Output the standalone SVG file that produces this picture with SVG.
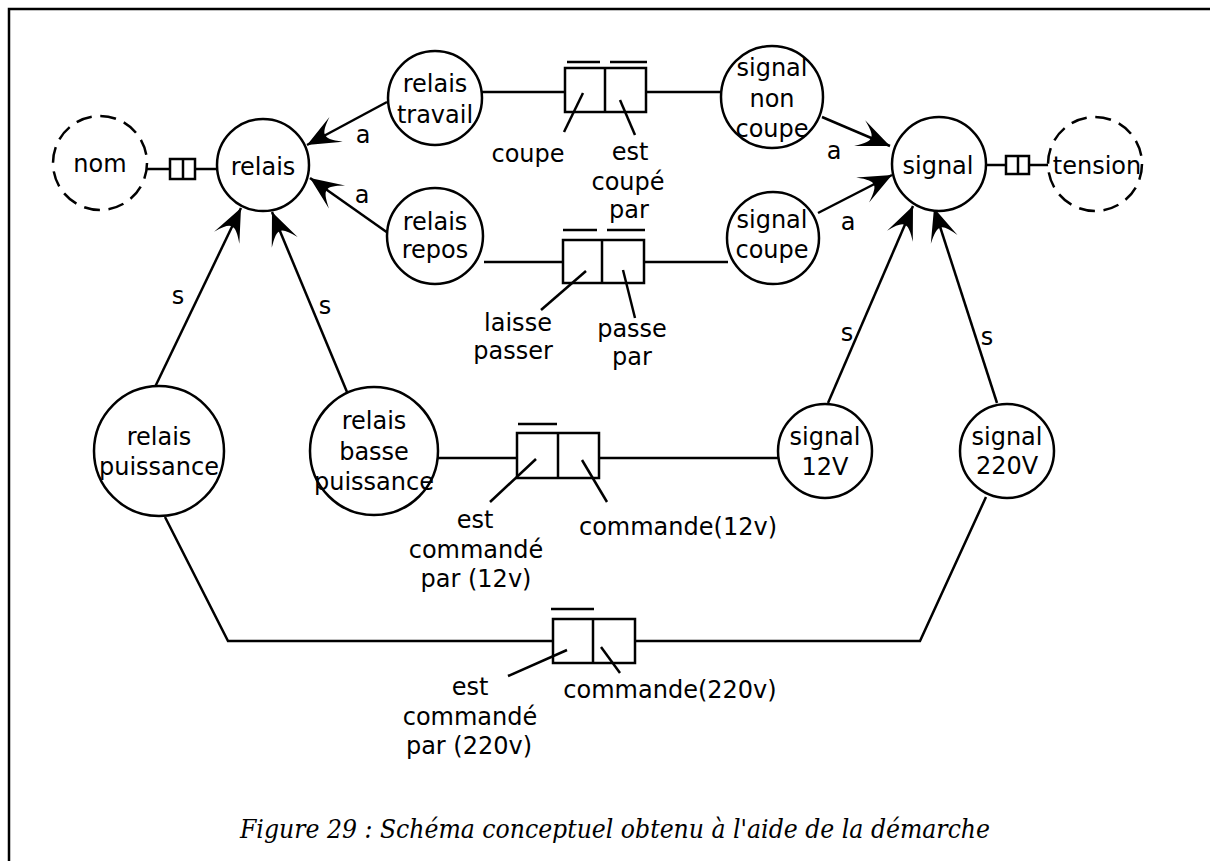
<svg xmlns="http://www.w3.org/2000/svg" width="1210" height="861" viewBox="0 0 1210 861">
<style>
  .n { fill: #fff; stroke: #000; stroke-width: 2.5; }
  .d { fill: #fff; stroke: #000; stroke-width: 2.5; stroke-dasharray: 16 8.6; }
  .l { fill: none; stroke: #000; stroke-width: 2.5; }
  .b { fill: #fff; stroke: #000; stroke-width: 2.5; }
  .bar { stroke: #000; stroke-width: 2.5; }
  .a { fill: none; stroke: #000; stroke-width: 2.5; marker-end: url(#arr); }
  text { font-family: "DejaVu Sans", "Liberation Sans", sans-serif; font-size: 24px; fill: #000; text-anchor: middle; }
  .cap { font-family: "DejaVu Serif", "Liberation Serif", serif; font-style: italic; font-size: 26px; text-anchor: start; }
</style>
<defs>
  <marker id="arr" viewBox="-34 -16 36 32" refX="0" refY="0" markerWidth="36" markerHeight="32" orient="auto" markerUnits="userSpaceOnUse">
    <path d="M0,0 L-33,-14 Q-19,-4 -21,0 Q-19,4 -33,14 Z" fill="#000"/>
  </marker>
</defs>
<rect width="1210" height="861" fill="#fff"/>
<g id="frame">
  <path class="l" d="M9,861 L9,9 L1210,9" stroke-width="2"/>
</g>

<g id="connectors">
  <!-- nom - relais -->
  <line class="l" x1="147" y1="169" x2="217" y2="169"/>
  <rect class="b" x="170" y="159" width="25" height="20"/>
  <line class="l" x1="183" y1="159" x2="183" y2="179"/>
  <!-- signal - tension -->
  <line class="l" x1="986" y1="165" x2="1050" y2="165"/>
  <rect class="b" x="1006" y="156" width="23" height="18"/>
  <line class="l" x1="1018" y1="156" x2="1018" y2="174"/>

  <!-- a arrows -->
  <line class="a" x1="387" y1="102" x2="307" y2="145"/>
  <line class="a" x1="388" y1="233" x2="310" y2="178"/>
  <line class="a" x1="822" y1="117" x2="890" y2="146"/>
  <line class="a" x1="818" y1="213" x2="892" y2="175"/>
  <!-- s arrows -->
  <line class="a" x1="155" y1="387" x2="241" y2="208"/>
  <line class="a" x1="347" y1="392" x2="272" y2="212"/>
  <line class="a" x1="828" y1="403" x2="913" y2="206"/>
  <line class="a" x1="997" y1="403" x2="934" y2="208"/>

  <!-- box 1: coupe / est coupé par -->
  <line class="l" x1="482" y1="92" x2="565" y2="92"/>
  <line class="l" x1="646" y1="92" x2="721" y2="92"/>
  <rect class="b" x="565" y="68" width="81" height="44"/>
  <line class="l" x1="605" y1="68" x2="605" y2="112"/>
  <line class="bar" x1="567" y1="62" x2="600" y2="62"/>
  <line class="bar" x1="610" y1="62" x2="647" y2="62"/>
  <line class="l" x1="583" y1="93" x2="564" y2="132"/>
  <line class="l" x1="620" y1="100" x2="635" y2="135"/>

  <!-- box 2: laisse passer / passe par -->
  <line class="l" x1="484" y1="262" x2="563" y2="262"/>
  <line class="l" x1="644" y1="262" x2="728" y2="262"/>
  <rect class="b" x="563" y="240" width="81" height="43"/>
  <line class="l" x1="602" y1="240" x2="602" y2="283"/>
  <line class="bar" x1="563" y1="230" x2="597" y2="230"/>
  <line class="bar" x1="607" y1="230" x2="645" y2="230"/>
  <line class="l" x1="586" y1="271" x2="541" y2="310"/>
  <line class="l" x1="623" y1="270" x2="635" y2="318"/>

  <!-- box 3: 12v -->
  <line class="l" x1="438" y1="458" x2="517" y2="458"/>
  <line class="l" x1="599" y1="458" x2="778" y2="458"/>
  <rect class="b" x="517" y="433" width="82" height="45"/>
  <line class="l" x1="558" y1="433" x2="558" y2="478"/>
  <line class="bar" x1="518" y1="424" x2="557" y2="424"/>
  <line class="l" x1="536" y1="459" x2="490" y2="502"/>
  <line class="l" x1="582" y1="460" x2="607" y2="502"/>

  <!-- box 4: 220v -->
  <path class="l" d="M165,517 L228,641 L553,641"/>
  <path class="l" d="M635,641 L920,641 L986,497"/>
  <rect class="b" x="553" y="619" width="82" height="44"/>
  <line class="l" x1="593" y1="619" x2="593" y2="663"/>
  <line class="bar" x1="551" y1="609" x2="594" y2="609"/>
  <line class="l" x1="567" y1="650" x2="508" y2="676"/>
  <line class="l" x1="601" y1="647" x2="620" y2="673"/>
</g>

<g id="connector-labels">
  <text x="363" y="143">a</text>
  <text x="362" y="203">a</text>
  <text x="834" y="159">a</text>
  <text x="848" y="230">a</text>
  <text x="178" y="304">s</text>
  <text x="325" y="314">s</text>
  <text x="847" y="341">s</text>
  <text x="987" y="345">s</text>

  <text x="528" y="162">coupe</text>
  <text x="630" y="160">est</text>
  <text x="628" y="190">coupé</text>
  <text x="629" y="218">par</text>

  <text x="518" y="331">laisse</text>
  <text x="513" y="359">passer</text>
  <text x="632" y="337">passe</text>
  <text x="632" y="365">par</text>

  <text x="475" y="528">est</text>
  <text x="476" y="558">commandé</text>
  <text x="476" y="587">par (12v)</text>
  <text x="678" y="535">commande(12v)</text>

  <text x="470" y="695">est</text>
  <text x="470" y="725">commandé</text>
  <text x="469" y="754">par (220v)</text>
  <text x="670" y="698">commande(220v)</text>
</g>

<g id="nom"><circle class="d" cx="100" cy="163" r="47"/><text x="100" y="172">nom</text></g>
<g id="relais"><circle class="n" cx="263" cy="165" r="46"/><text x="263" y="175">relais</text></g>
<g id="relais-travail"><circle class="n" cx="435" cy="98" r="47"/><text x="435" y="92">relais</text><text x="435" y="123">travail</text></g>
<g id="relais-repos"><circle class="n" cx="435" cy="236" r="48"/><text x="435" y="230">relais</text><text x="435" y="258">repos</text></g>
<g id="signal-non-coupe"><circle class="n" cx="772" cy="97" r="51"/><text x="772" y="76">signal</text><text x="772" y="107">non</text><text x="772" y="137">coupe</text></g>
<g id="signal-coupe"><circle class="n" cx="773" cy="238" r="46"/><text x="772" y="228">signal</text><text x="772" y="258">coupe</text></g>
<g id="signal"><circle class="n" cx="939" cy="164" r="47"/><text x="938" y="174">signal</text></g>
<g id="tension"><circle class="d" cx="1095" cy="164" r="47"/><text x="1097" y="174">tension</text></g>
<g id="relais-puissance"><circle class="n" cx="159" cy="451" r="65"/><text x="159" y="445">relais</text><text x="159" y="475">puissance</text></g>
<g id="relais-basse-puissance"><circle class="n" cx="374" cy="451" r="64"/><text x="374" y="429">relais</text><text x="374" y="460">basse</text><text x="374" y="490">puissance</text></g>
<g id="signal-12v"><circle class="n" cx="825" cy="451" r="47"/><text x="825" y="445">signal</text><text x="825" y="475">12V</text></g>
<g id="signal-220v"><circle class="n" cx="1007" cy="451" r="47"/><text x="1007" y="445">signal</text><text x="1007" y="474">220V</text></g>

<g id="caption">
  <text class="cap" x="240" y="838" textLength="750" lengthAdjust="spacingAndGlyphs">Figure 29 : Schéma conceptuel obtenu à l'aide de la démarche</text>
</g>
</svg>
